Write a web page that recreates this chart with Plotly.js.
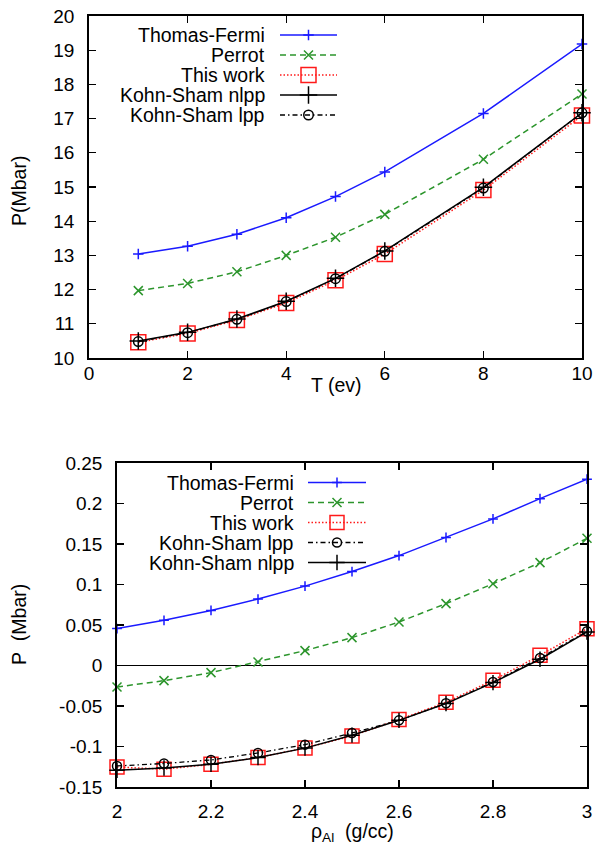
<!DOCTYPE html>
<html>
<head>
<meta charset="utf-8">
<script src="https://cdn.plot.ly/plotly-3.0.1.min.js"></script>
<style>html,body{margin:0;padding:0;background:#fff;}#chart{width:597px;height:848px;}</style>
</head>
<body>
<div id="chart"></div>
<script>
// ---------- Data: top panel (P vs T) ----------
const tempEv = [1, 2, 3, 4, 5, 6, 8, 10];
const topThomasFermi = [13.04, 13.27, 13.62, 14.10, 14.72, 15.44, 17.15, 19.18];
const topPerrot      = [11.97, 12.18, 12.52, 13.00, 13.53, 14.20, 15.81, 17.72];
const topThisWork    = [10.46, 10.72, 11.11, 11.61, 12.27, 13.04, 14.91, 17.09];
const topKSnlpp      = [10.50, 10.75, 11.14, 11.66, 12.33, 13.13, 14.99, 17.17];
const topKSlpp       = [10.48, 10.74, 11.13, 11.65, 12.32, 13.12, 14.97, 17.17];

// ---------- Data: bottom panel (P vs density) ----------
const density = [2.0, 2.1, 2.2, 2.3, 2.4, 2.5, 2.6, 2.7, 2.8, 2.9, 3.0];
const botThomasFermi = [0.0456, 0.0558, 0.068, 0.082, 0.098, 0.116, 0.1357, 0.158, 0.181, 0.206, 0.230];
const botPerrot      = [-0.0265, -0.0187, -0.0088, 0.0044, 0.0184, 0.0344, 0.0537, 0.0764, 0.101, 0.127, 0.157];
const botThisWork    = [-0.1253, -0.128, -0.122, -0.1137, -0.1018, -0.087, -0.0668, -0.0454, -0.0183, 0.0126, 0.0455];
const botKSlpp       = [-0.124, -0.121, -0.1166, -0.108, -0.0977, -0.0833, -0.0677, -0.0467, -0.0204, 0.0093, 0.0422];
const botKSnlpp      = [-0.1294, -0.1265, -0.122, -0.1137, -0.102, -0.086, -0.0677, -0.047, -0.0211, 0.0077, 0.0414];

// ---------- Tick labels ----------
const topXTicks = [0, 2, 4, 6, 8, 10];
const topYTicks = [10, 11, 12, 13, 14, 15, 16, 17, 18, 19, 20];
const botXTicks = [2, 2.2, 2.4, 2.6, 2.8, 3];
const botXTickText = ["2", "2.2", "2.4", "2.6", "2.8", "3"];
const botYTicks = [-0.15, -0.1, -0.05, 0, 0.05, 0.1, 0.15, 0.2, 0.25];
const botYTickText = ["-0.15", "-0.1", "-0.05", "0", "0.05", "0.1", "0.15", "0.2", "0.25"];

// ---------- Legend labels ----------
const topLegendLabels = ["Thomas-Fermi", "Perrot", "This work", "Kohn-Sham nlpp", "Kohn-Sham lpp"];
const botLegendLabels = ["Thomas-Fermi", "Perrot", "This work", "Kohn-Sham lpp", "Kohn-Sham nlpp"];

// ---------- Styles ----------
const W = 597, H = 848;
const FONT = "Liberation Sans, Arial, Helvetica, sans-serif";
const FS = 19.5;      // legend / titles
const TFS = 19;       // tick labels
const BLUE = "#1a1aff", GREEN = "#2c952c", RED = "#ff1a1a", BLACK = "#000000";

const styles = {
  tf:    {line: {color: BLUE, width: 1.5, dash: "solid"}, sym: "cross-thin-open", col: BLUE},
  per:   {line: {color: GREEN, width: 1.5, dash: "6px,4px"}, sym: "x-thin-open", col: GREEN},
  tw:    {line: {color: RED, width: 1.5, dash: "1.5px,2px"}, sym: "square-open", col: RED},
  nlpp:  {line: {color: BLACK, width: 1.5, dash: "solid"}, sym: "cross-thin-open", col: BLACK},
  lpp:   {line: {color: BLACK, width: 1.3, dash: "5px,3px,1.5px,3px"}, sym: "circle-open", col: BLACK}
};
const topSizes = {tf: 7.5, per: 9, tw: 15, nlpp: 12.5, lpp: 9.5};
const botSizes = {tf: 7, per: 9, tw: 14, nlpp: 11, lpp: 9};

function mk(x, y, key, size, xa, ya, name) {
  const s = styles[key];
  return {
    x: x, y: y, xaxis: xa, yaxis: ya, name: name, type: "scatter", mode: "lines+markers",
    showlegend: false, cliponaxis: false,
    line: s.line,
    marker: {symbol: s.sym, size: size, color: s.col, line: {color: s.col, width: 1.5}}
  };
}

const traces = [
  mk(tempEv, topThomasFermi, "tf", topSizes.tf, "x", "y", topLegendLabels[0]),
  mk(tempEv, topPerrot, "per", topSizes.per, "x", "y", topLegendLabels[1]),
  mk(tempEv, topThisWork, "tw", topSizes.tw, "x", "y", topLegendLabels[2]),
  mk(tempEv, topKSnlpp, "nlpp", topSizes.nlpp, "x", "y", topLegendLabels[3]),
  mk(tempEv, topKSlpp, "lpp", topSizes.lpp, "x", "y", topLegendLabels[4]),
  mk(density, botThomasFermi, "tf", botSizes.tf, "x2", "y2", botLegendLabels[0]),
  mk(density, botPerrot, "per", botSizes.per, "x2", "y2", botLegendLabels[1]),
  mk(density, botThisWork, "tw", botSizes.tw, "x2", "y2", botLegendLabels[2]),
  mk(density, botKSlpp, "lpp", botSizes.lpp, "x2", "y2", botLegendLabels[3]),
  mk(density, botKSnlpp, "nlpp", botSizes.nlpp, "x2", "y2", botLegendLabels[4])
];

// ---------- gnuplot-style legends (text right, sample line on the right) ----------
const annotations = [];
function addLegend(labels, keys, sizes, textRight, lineX0, lineX1, rowY0, rowStep) {
  labels.forEach((lab, i) => {
    const yy = rowY0 + i * rowStep;
    annotations.push({
      xref: "paper", yref: "paper", x: textRight / W, y: 1 - yy / H,
      xanchor: "right", yanchor: "middle", showarrow: false, text: lab,
      font: {family: FONT, size: FS, color: "#000"}
    });
    const s = styles[keys[i]];
    const xm = (lineX0 + lineX1) / 2;
    traces.push({
      x: [lineX0, xm, lineX1], y: [yy, yy, yy], xaxis: "x3", yaxis: "y3",
      type: "scatter", mode: "lines+markers", showlegend: false, hoverinfo: "skip",
      cliponaxis: false, line: s.line,
      marker: {symbol: s.sym, size: sizes[keys[i]], color: s.col, opacity: [0, 1, 0],
               line: {color: s.col, width: 1.5}}
    });
  });
}
addLegend(topLegendLabels, ["tf", "per", "tw", "nlpp", "lpp"], topSizes, 267, 280, 337, 35, 20);
addLegend(botLegendLabels, ["tf", "per", "tw", "lpp", "nlpp"], botSizes, 296, 308, 366, 482.5, 20);

// ---------- axis titles ----------
annotations.push({xref: "paper", yref: "paper", x: 19 / W, y: 1 - 191 / H, textangle: -90,
  xanchor: "center", yanchor: "middle", showarrow: false, text: "P(Mbar)",
  font: {family: FONT, size: FS, color: "#000"}});
annotations.push({xref: "paper", yref: "paper", x: 336 / W, y: 1 - 385 / H,
  xanchor: "center", yanchor: "middle", showarrow: false, text: "T (ev)",
  font: {family: FONT, size: FS, color: "#000"}});
annotations.push({xref: "paper", yref: "paper", x: 19 / W, y: 1 - 625 / H, textangle: -90,
  xanchor: "center", yanchor: "middle", showarrow: false, text: "P\u00a0 (Mbar)",
  font: {family: FONT, size: FS, color: "#000"}});
annotations.push({xref: "paper", yref: "paper", x: 352 / W, y: 1 - 832 / H,
  xanchor: "center", yanchor: "middle", showarrow: false, text: "\u03c1<sub>Al</sub>\u00a0 (g/cc)",
  font: {family: FONT, size: FS, color: "#000"}});

const axBase = {
  showgrid: false, zeroline: false, showline: true, linecolor: "#000", linewidth: 1.8,
  mirror: "ticks", ticks: "inside", ticklen: 7, tickwidth: 1.3, tickcolor: "#000",
  tickfont: {family: FONT, size: TFS, color: "#000"}, fixedrange: true
};

const layout = {
  width: W, height: H,
  margin: {l: 0, r: 0, t: 0, b: 0, pad: 0},
  paper_bgcolor: "#ffffff", plot_bgcolor: "rgba(0,0,0,0)",
  showlegend: false,
  font: {family: FONT, size: FS, color: "#000"},
  xaxis: Object.assign({}, axBase, {domain: [89 / W, 582 / W], range: [0, 10], anchor: "y",
    tickmode: "array", tickvals: topXTicks, ticklabelstandoff: -3}),
  yaxis: Object.assign({}, axBase, {domain: [1 - 358 / H, 1 - 16 / H], range: [10, 20], anchor: "x",
    tickmode: "array", tickvals: topYTicks, ticklabelstandoff: 9}),
  xaxis2: Object.assign({}, axBase, {domain: [117 / W, 587 / W], range: [2, 3], anchor: "y2",
    tickmode: "array", tickvals: botXTicks, ticktext: botXTickText, ticklabelstandoff: 6}),
  yaxis2: Object.assign({}, axBase, {domain: [1 - 787 / H, 1 - 463 / H], range: [-0.15, 0.25], anchor: "x2",
    tickmode: "array", tickvals: botYTicks, ticktext: botYTickText, ticklabelstandoff: 9,
    zeroline: true, zerolinecolor: "#000", zerolinewidth: 1}),
  xaxis3: {domain: [0, 1], range: [0, W], anchor: "y3", visible: false, fixedrange: true},
  yaxis3: {domain: [0, 1], range: [H, 0], anchor: "x3", visible: false, fixedrange: true},
  annotations: annotations
};

Plotly.newPlot("chart", traces, layout, {displayModeBar: false, staticPlot: true});
</script>
</body>
</html>
